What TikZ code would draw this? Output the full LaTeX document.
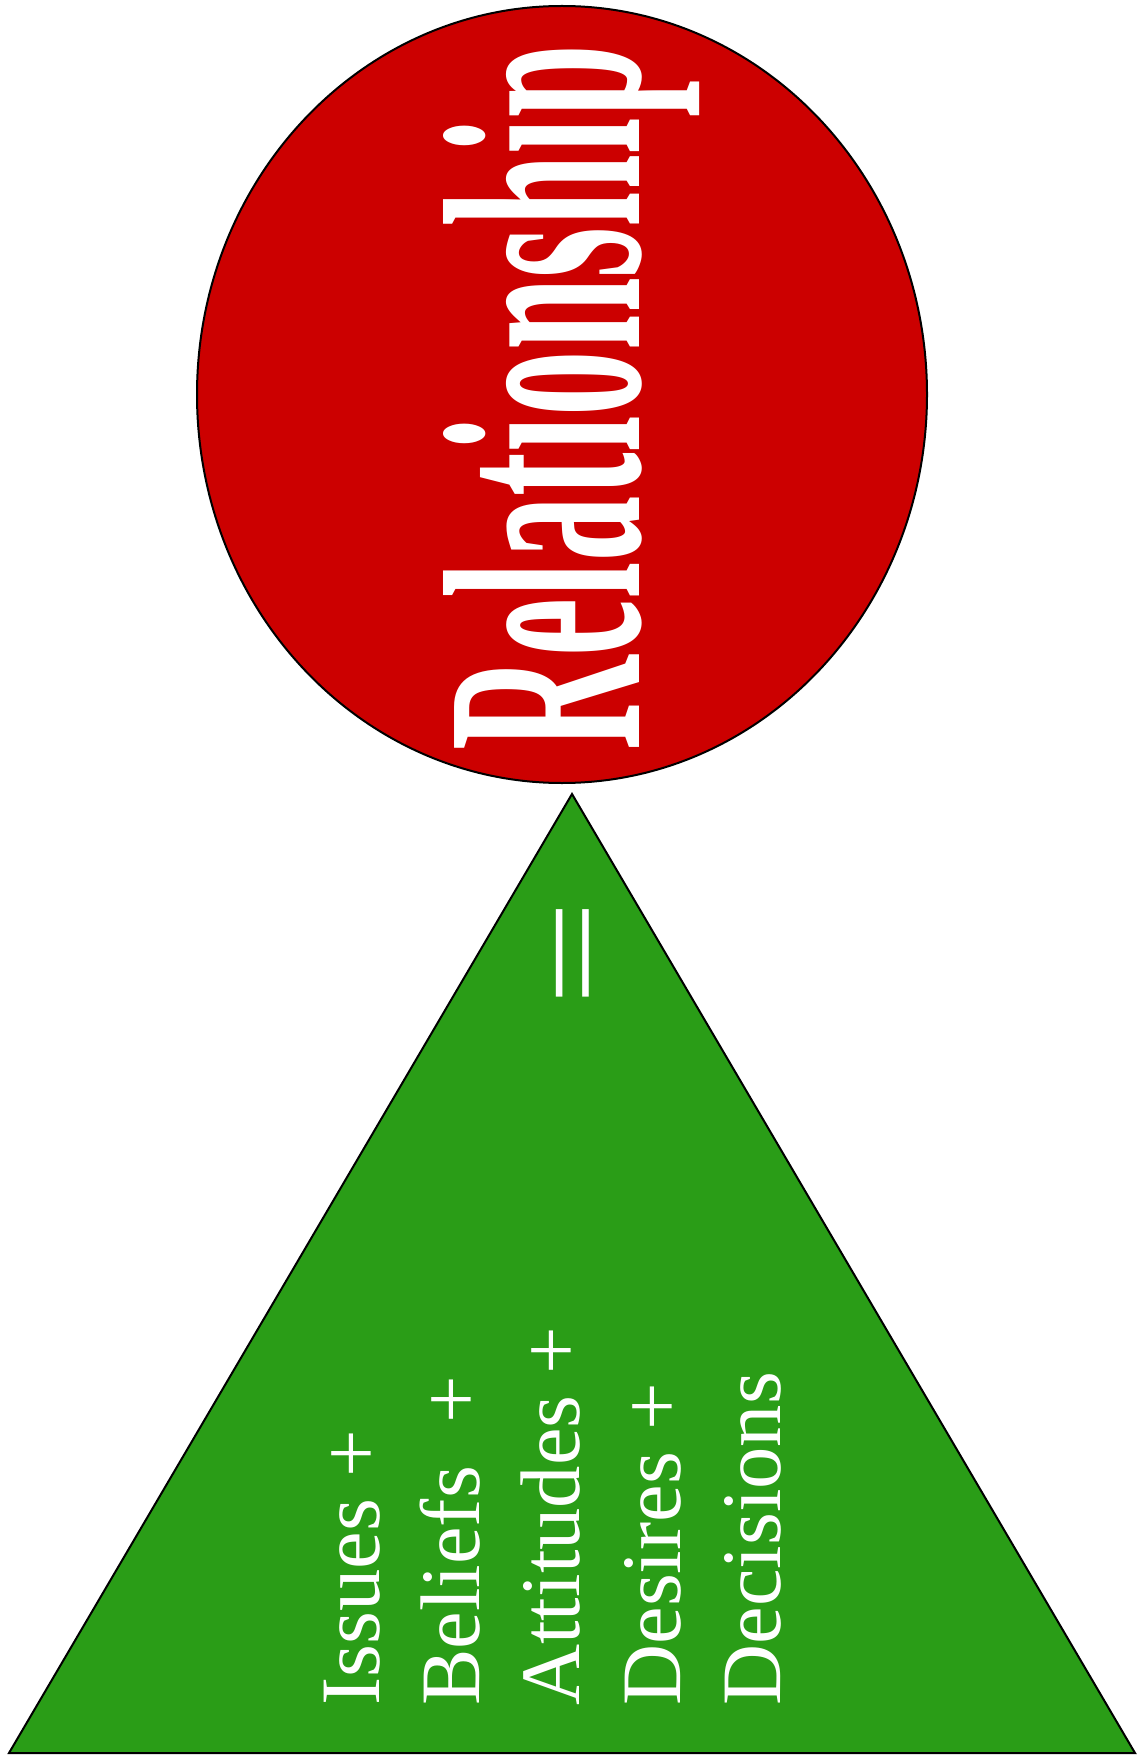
\documentclass[tikz,border=0pt]{standalone}
\usepackage{fontspec}
\setmainfont{Liberation Serif}
\usepackage{graphicx}
\definecolor{relred}{RGB}{204,0,0}
\definecolor{tgreen}{RGB}{42,157,23}
\begin{document}
\begin{tikzpicture}[x=0.5pt,y=-0.5pt,
  outline/.style={draw=black,line width=1pt},
  wordtxt/.style={rotate=90,anchor=base west,inner sep=0pt,text=white,font=\fontsize{42.3pt}{50pt}\selectfont},
  bigtxt/.style={rotate=90,anchor=base,inner sep=0pt,text=white}]
\useasboundingbox (0,0) rectangle (1141,1759);
\fill[white] (0,0) rectangle (1141,1759);
% circle
\draw[outline,fill=relred] (562,394.5) ellipse [x radius=182.5pt, y radius=194.25pt];
% triangle
\draw[outline,fill=tgreen,line join=miter] (572,794) -- (9,1753) -- (1135,1753) -- cycle;
% texts
\node[bigtxt] (rel) at (639.5,398) {\scalebox{0.4636}[1]{\fontsize{141.25pt}{150pt}\selectfont\bfseries Relationship}};
\node[rotate=90,anchor=center,inner sep=0pt,text=white,font=\fontsize{85.5pt}{90pt}\selectfont] (eq) at (586.7,953.4) {\scalebox{1.1}[0.77]{=}};
\node[wordtxt] (w1) at (379,1706) {Issues +};
\node[wordtxt] (w2) at (479,1706) {Beliefs\ \ +};
\node[wordtxt] (w3) at (579,1706) {Attitudes +};
\node[wordtxt] (w4) at (680,1706) {Desires +};
\node[wordtxt] (w5) at (780,1706) {Decisions};
\end{tikzpicture}
\end{document}
